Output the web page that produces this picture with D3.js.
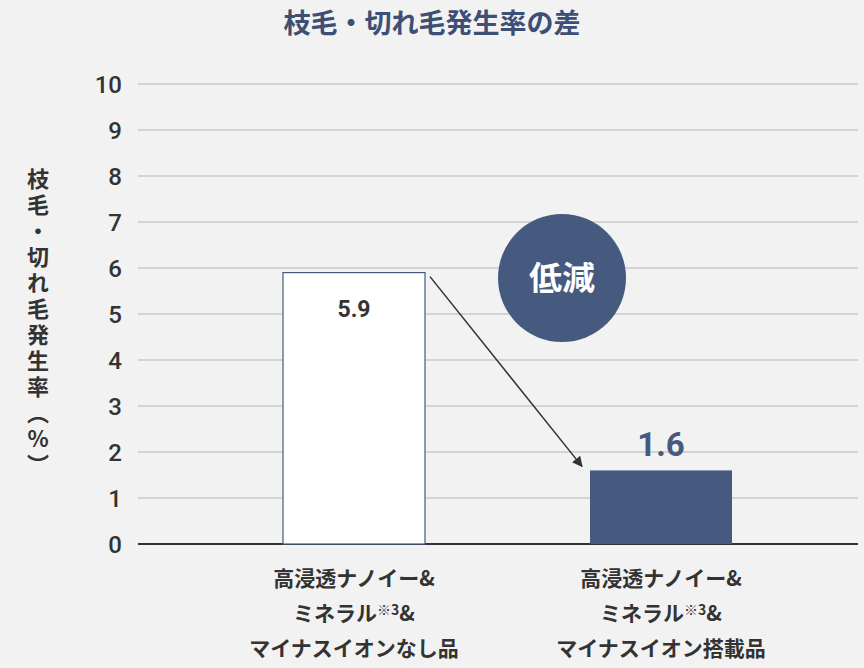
<!DOCTYPE html>
<html><head><meta charset="utf-8">
<script src="https://cdn.jsdelivr.net/npm/d3@7"></script>
<style>body{margin:0;background:#f2f2f2;font-family:"Noto Sans CJK JP","Noto Sans",sans-serif;}</style>
</head><body><div id="chart"></div>
<script>
const categories = ['a', 'b'];
const categoryLabels = [
  ['高浸透ナノイー&', 'ミネラル|※3|&', 'マイナスイオンなし品'],
  ['高浸透ナノイー&', 'ミネラル|※3|&', 'マイナスイオン搭載品']
];
const values = [5.9, 1.6];
const yTicks = d3.range(0, 11);

const W = 864, H = 668, navy = '#465a80';
const svg = d3.select('#chart').append('svg').attr('width', W).attr('height', H);
svg.append('rect').attr('width', W).attr('height', H).attr('fill', '#f2f2f2');

const x = d3.scaleBand().domain(categories).range([283, 732]).paddingInner(0.5375).paddingOuter(0);
const y = d3.scaleLinear().domain([0, 10]).range([544, 84]);

svg.append('text').attr('x', 432).attr('y', 33).attr('text-anchor', 'middle')
  .attr('font-size', 27).attr('font-weight', 700).attr('fill', '#3d4f75').text('枝毛・切れ毛発生率の差');

svg.append('g').selectAll('line').data(yTicks.slice(1)).join('line')
  .attr('x1', 138).attr('x2', 858).attr('y1', d => y(d)).attr('y2', d => y(d))
  .attr('stroke', '#c8c8c8').attr('stroke-width', 1.5);
svg.append('line').attr('x1', 138).attr('x2', 858).attr('y1', y(0)).attr('y2', y(0))
  .attr('stroke', '#333').attr('stroke-width', 2);

svg.append('g').selectAll('text').data(yTicks).join('text')
  .attr('x', 122).attr('y', d => y(d) + 9).attr('text-anchor', 'end')
  .attr('font-size', 24).attr('font-family', 'Roboto, sans-serif').attr('font-weight', 500).attr('fill', '#333').text(d => d);

svg.append('text').attr('x', 38).attr('y', 168)
  .style('writing-mode', 'vertical-rl').style('text-orientation', 'upright')
  .attr('font-size', 22).attr('font-weight', 700).attr('fill', '#333').attr('letter-spacing', 4)
  .text('枝毛・切れ毛発生率（%）');

svg.append('g').selectAll('rect').data(values).join('rect')
  .attr('x', (d, i) => x(categories[i])).attr('width', x.bandwidth())
  .attr('y', d => y(d)).attr('height', d => y(0) - y(d))
  .attr('fill', (d, i) => i ? navy : '#fff').attr('stroke', (d, i) => i ? 'none' : navy).attr('stroke-width', 1.2);

svg.append('text').attr('x', x('a') + x.bandwidth() / 2).attr('y', y(values[0]) + 44).attr('text-anchor', 'middle')
  .attr('font-size', 23).attr('font-family', 'Roboto, sans-serif').attr('font-weight', 700).attr('fill', '#333').text(values[0]);
svg.append('text').attr('x', x('b') + x.bandwidth() / 2).attr('y', y(values[1]) - 14).attr('text-anchor', 'middle')
  .attr('font-size', 33).attr('font-family', 'Roboto, sans-serif').attr('font-weight', 700).attr('fill', navy).text(values[1]);

svg.append('defs').append('marker').attr('id', 'ah').attr('viewBox', '0 0 10 10').attr('refX', 9).attr('refY', 5)
  .attr('markerWidth', 7).attr('markerHeight', 7).attr('orient', 'auto')
  .append('path').attr('d', 'M0,0L10,5L0,10z').attr('fill', '#333');
svg.append('line').attr('x1', x('a') + x.bandwidth() + 5).attr('y1', y(values[0]) + 4)
  .attr('x2', x('b') - 8).attr('y2', y(values[1]) - 4)
  .attr('stroke', '#333').attr('stroke-width', 1.5).attr('marker-end', 'url(#ah)');

svg.append('circle').attr('cx', 562).attr('cy', 278).attr('r', 64).attr('fill', navy);
svg.append('text').attr('x', 562).attr('y', 290).attr('text-anchor', 'middle')
  .attr('font-size', 33).attr('font-weight', 700).attr('fill', '#fff').text('低減');

categories.forEach((c, i) => {
  const t = svg.append('g').selectAll('text').data(categoryLabels[i]).join('text')
    .attr('x', x(c) + x.bandwidth() / 2).attr('y', (d, j) => 586 + j * 35).attr('text-anchor', 'middle')
    .attr('font-size', 21).attr('font-weight', 700).attr('fill', '#333');
  t.each(function(d) {
    d.split('|').forEach((s, k) => {
      d3.select(this).append('tspan').attr('font-size', k === 1 ? 14 : null)
        .attr('dy', k === 1 ? -6 : (k === 2 ? 6 : null)).text(s);
    });
  });
});
</script></body></html>
